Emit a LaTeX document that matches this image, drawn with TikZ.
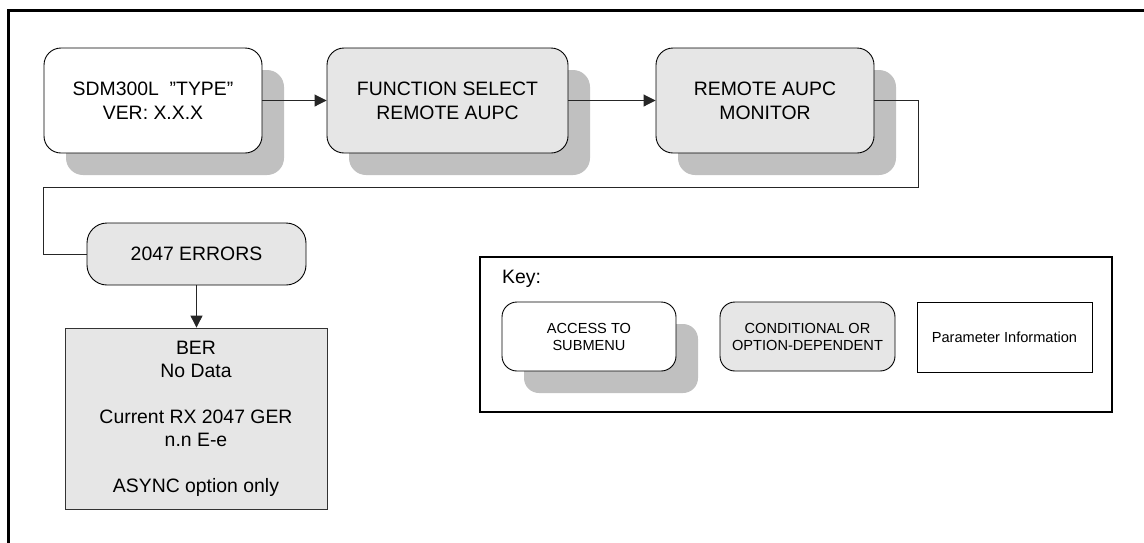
\documentclass[tikz,border=0pt]{standalone}
\usepackage{fontspec}
\setmainfont{Liberation Sans}
\usetikzlibrary{arrows.meta,shadows}
\definecolor{boxgray}{HTML}{E6E6E6}
\definecolor{shadowgray}{HTML}{C0C0C0}
\tikzset{
  menu/.style={draw=black, line width=0.9pt, rounded corners=17pt, inner sep=0pt, align=center,
    font=\fontsize{19.4}{24}\selectfont},
  sub/.style={drop shadow={shadow xshift=22pt, shadow yshift=-22pt, fill=shadowgray, opacity=1}},
  cond/.style={fill=boxgray},
  keyfont/.style={font=\fontsize{14.6}{17}\selectfont},
  conn/.style={draw=black!85, line width=0.9pt},
  arr/.style={conn, -{Triangle[length=12pt,width=12pt]}},
}
\begin{document}
\begin{tikzpicture}[x=1pt, y=-1pt]
\useasboundingbox (0,0) rectangle (1144,542);
\begin{scope}
\clip (0,0) rectangle (1144,542);
\draw[line width=2.6pt] (8.5,560) -- (8.5,10.5) -- (1160,10.5);
\end{scope}
% main flow
\node[menu, fill=white, sub, minimum width=218pt, minimum height=105pt] (b1) at (153,100.5)
  {SDM300L\ \ "TYPE"\\VER: X.X.X};
\node[menu, cond, sub, minimum width=241pt, minimum height=105pt] (b2) at (447.5,100.5)
  {FUNCTION SELECT\\REMOTE AUPC};
\node[menu, cond, sub, minimum width=218pt, minimum height=105pt] (b3) at (765,100.5)
  {REMOTE AUPC\\MONITOR};
\node[menu, cond, rounded corners=20pt, minimum width=219pt, minimum height=62pt] (b4) at (196.5,254)
  {2047 ERRORS};
\node[draw=black!80, line width=0.8pt, fill=boxgray, inner sep=0pt, align=center,
  minimum width=262pt, minimum height=181pt, font=\fontsize{19.4}{23}\selectfont] (b5) at (196,418.5)
  {BER\\No Data\\[23pt]Current RX 2047 GER\\n.n E-e\\[23pt]ASYNC option only};
\coordinate (c1) at (918,187);
\coordinate (c2) at (43,187);
\draw[arr] (b1) -- (b2);
\draw[arr] (b2) -- (b3);
\draw[conn] (b3.east) -| (c1) -- (c2) |- (b4.west);
\draw[arr] (b4.south) -- (b4.south |- b5.north);
% key
\node[draw=black, line width=1.2pt, fill=white, minimum width=632pt, minimum height=155pt, inner sep=0pt] (key) at (796,334.5) {};
\node[anchor=base west, inner sep=0pt, font=\fontsize{19.4}{24}\selectfont] (keylbl) at (502,283) {Key:};
\node[menu, keyfont, fill=white, sub, rounded corners=15pt, minimum width=174pt, minimum height=69pt] (k1) at (589,336.5)
  {ACCESS TO\\SUBMENU};
\node[menu, keyfont, cond, rounded corners=15pt, minimum width=175pt, minimum height=69pt] (k2) at (807.5,336.5)
  {CONDITIONAL OR\\OPTION-DEPENDENT};
\node[draw=black, line width=0.9pt, fill=white, inner sep=0pt, keyfont, minimum width=175pt, minimum height=70pt] (k3) at (1004.5,337)
  {Parameter Information};
\end{tikzpicture}
\end{document}
